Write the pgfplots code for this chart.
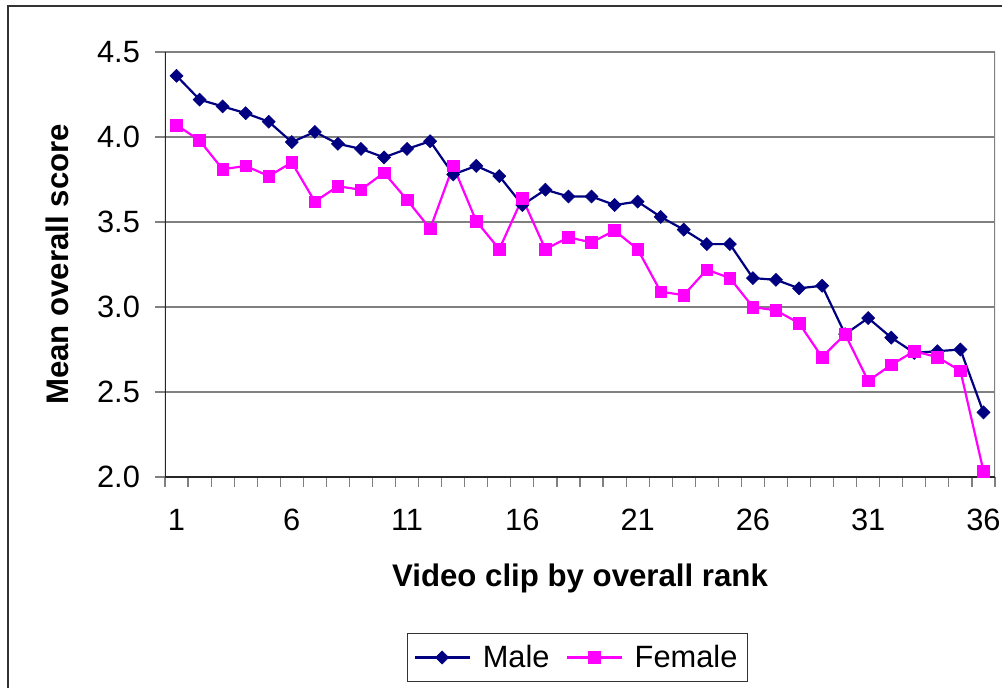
\documentclass[border=0pt]{standalone}
\usepackage{pgfplots}
\pgfplotsset{compat=1.18}
\usepackage{fontspec}
\setmainfont{Liberation Sans}
\definecolor{malec}{HTML}{000080}
\definecolor{femc}{HTML}{FF00FF}
\definecolor{gridc}{HTML}{808080}
\begin{document}
\begin{tikzpicture}
\useasboundingbox (0,0) rectangle (501pt,343.5pt);
\draw[line width=0.7pt, color=black!80] (4pt,-10pt) -- (4pt,340.5pt) -- (520pt,340.5pt);
\begin{axis}[
  at={(82.5pt,105pt)}, anchor=south west,
  scale only axis, width=415pt, height=212.5pt,
  xmin=0.5, xmax=36.5, ymin=2, ymax=4.5,
  ytick={2,2.5,3,3.5,4,4.5},
  xtick={1,6,11,16,21,26,31,36},
  minor xtick={0.5,1.5,...,36.5},
  major x tick style={draw=none},
  minor x tick style={draw=gridc, line width=0.6pt},
  y tick style={draw=gridc, line width=0.6pt},
  major tick length=5pt, minor tick length=5pt,
  tick align=outside, tick pos=left,
  ymajorgrids, grid style={gridc, line width=0.6pt},
  axis line style={draw=none},
  /pgf/number format/assume math mode=true,
  yticklabel style={xshift=-4pt, /pgf/number format/.cd, fixed, fixed zerofill, precision=1},
  tick label style={font=\fontsize{15.4}{18}\selectfont},
  xticklabel style={yshift=-7.5pt},
  xlabel={Video clip by overall rank},
  ylabel={Mean overall score},
  every axis x label/.style={at={(rel axis cs:0.5,0)}, yshift=-50.5pt, anchor=center, font=\fontsize{15.6}{18}\selectfont\bfseries},
  every axis y label/.style={at={(rel axis cs:0,0.5)}, xshift=-54pt, rotate=90, anchor=center, font=\fontsize{15.6}{18}\selectfont\bfseries},
  legend columns=2,
  legend style={at={(0.497,-0.4247)}, anchor=center, draw=black!80, line width=0.6pt,
    font=\fontsize{15.4}{18}\selectfont, inner xsep=3pt, inner ysep=3.75pt,
    /tikz/every odd column/.append style={column sep=4pt},
    /tikz/every even column/.append style={column sep=6pt}},
  legend image code/.code={\draw[mark repeat=2,mark phase=2] plot coordinates {(0pt,0pt)(13.75pt,0pt)(27.5pt,0pt)};},
]
\addplot[color=malec, line width=1.1pt, mark=square*, mark size=2.3pt, mark options={rotate=45, fill=malec, line width=0.3pt}] coordinates {
(1,4.36)(2,4.22)(3,4.18)(4,4.14)(5,4.09)(6,3.97)(7,4.03)(8,3.96)(9,3.93)(10,3.88)
(11,3.93)(12,3.975)(13,3.78)(14,3.83)(15,3.77)(16,3.60)(17,3.69)(18,3.65)(19,3.65)(20,3.60)
(21,3.62)(22,3.53)(23,3.455)(24,3.37)(25,3.37)(26,3.17)(27,3.16)(28,3.11)(29,3.125)(30,2.84)
(31,2.935)(32,2.82)(33,2.73)(34,2.74)(35,2.75)(36,2.38)};
\addlegendentry{Male}
\addplot[color=femc, line width=1.1pt, mark=square*, mark size=2.9pt, mark options={fill=femc, line width=0.3pt}] coordinates {
(1,4.07)(2,3.98)(3,3.81)(4,3.83)(5,3.77)(6,3.85)(7,3.62)(8,3.71)(9,3.69)(10,3.79)
(11,3.63)(12,3.46)(13,3.83)(14,3.505)(15,3.34)(16,3.64)(17,3.34)(18,3.41)(19,3.38)(20,3.45)
(21,3.34)(22,3.09)(23,3.07)(24,3.22)(25,3.17)(26,3.00)(27,2.98)(28,2.905)(29,2.705)(30,2.84)
(31,2.565)(32,2.66)(33,2.74)(34,2.705)(35,2.625)(36,2.035)};
\addlegendentry{Female}
\draw[gridc, line width=0.8pt] (rel axis cs:1,0) -- (rel axis cs:1,1);
\draw[black!85, line width=0.7pt] (rel axis cs:0,1) -- (rel axis cs:0,0) -- (rel axis cs:1,0);
\end{axis}
\end{tikzpicture}
\end{document}
